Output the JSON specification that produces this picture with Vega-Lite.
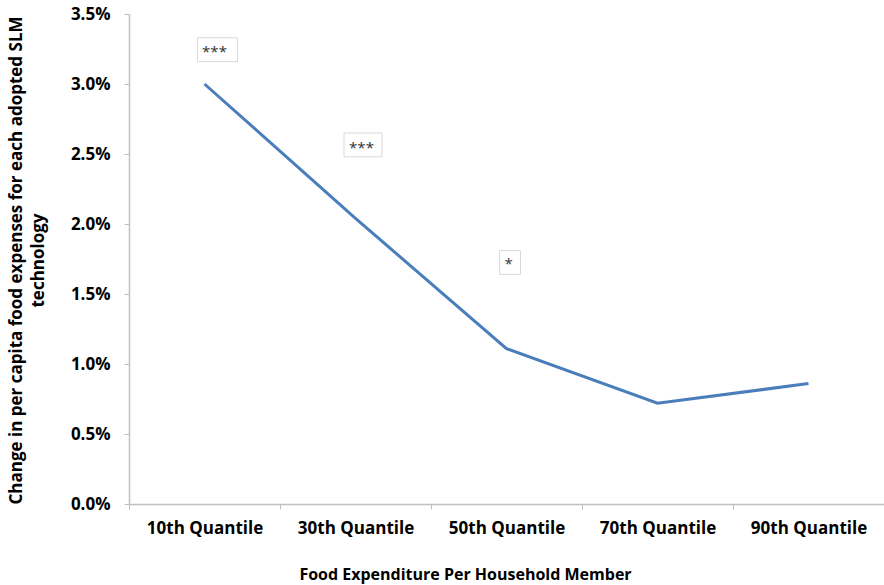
{
  "$schema": "https://vega.github.io/schema/vega-lite/v6.json",
  "width": 755,
  "height": 490,
  "autosize": "none",
  "padding": {"left": 129, "top": 14, "right": 0, "bottom": 81},
  "background": "white",
  "config": {
    "view": {"stroke": null},
    "font": "Open Sans",
    "axis": {"labelFont": "Open Sans", "titleFont": "Open Sans"}
  },
  "datasets": {
    "main": [
      {"quantile": "10th Quantile", "change": 0.0300},
      {"quantile": "30th Quantile", "change": 0.0204},
      {"quantile": "50th Quantile", "change": 0.0111},
      {"quantile": "70th Quantile", "change": 0.0072},
      {"quantile": "90th Quantile", "change": 0.0086}
    ],
    "notes": [
      {"id": 1, "quantile": "10th Quantile", "label": "***", "pos": 0.0324, "top": 0.0333, "bottom": 0.0316},
      {"id": 2, "quantile": "30th Quantile", "label": "***", "pos": 0.0256, "top": 0.0265, "bottom": 0.0248},
      {"id": 3, "quantile": "50th Quantile", "label": "*", "pos": 0.0173, "top": 0.0181, "bottom": 0.0164}
    ]
  },
  "encoding": {
    "x": {
      "field": "quantile",
      "type": "nominal",
      "sort": null,
      "scale": {"domain": ["10th Quantile", "30th Quantile", "50th Quantile", "70th Quantile", "90th Quantile"], "paddingInner": 0, "paddingOuter": 0},
      "axis": {
        "title": "Food Expenditure Per Household Member",
        "titleFontSize": 16,
        "titleFontWeight": "bold",
        "titleColor": "#000000",
        "titleX": 336,
        "titleY": 70,
        "titleAlign": "center",
        "titleBaseline": "middle",
        "labelAngle": 0,
        "labelFontSize": 17,
        "labelFontWeight": "bold",
        "labelColor": "#000000",
        "labelPadding": 11,
        "labelBaseline": "top",
        "tickBand": "extent",
        "tickSize": 5,
        "tickColor": "#bfbfbf",
        "domainColor": "#bfbfbf",
        "domainWidth": 1.5,
        "grid": false
      }
    }
  },
  "layer": [
    {
      "data": {"name": "main"},
      "mark": {"type": "line", "color": "#4a7ebb", "strokeWidth": 3},
      "encoding": {
        "y": {
          "field": "change",
          "type": "quantitative",
          "scale": {"domain": [0, 0.035], "nice": false},
          "axis": {
            "values": [0, 0.005, 0.01, 0.015, 0.02, 0.025, 0.03, 0.035],
            "format": ".1%",
            "grid": false,
            "title": ["Change in per capita food expenses for each adopted SLM", "technology"],
            "titleFontSize": 17,
            "titleFontWeight": "bold",
            "titleColor": "#000000",
            "titleAngle": -90,
            "titleX": -121,
            "titleY": 246,
            "titleAlign": "center",
            "titleBaseline": "top",
            "titleLineHeight": 22,
            "labelFontSize": 17,
            "labelFontWeight": "bold",
            "labelColor": "#000000",
            "labelPadding": 14,
            "tickSize": 5,
            "tickColor": "#bfbfbf",
            "domainColor": "#bfbfbf",
            "domainWidth": 1.5
          }
        }
      }
    },
    {
      "data": {"name": "notes"},
      "transform": [{"filter": "datum.id == 1"}],
      "layer": [
        {"mark": {"type": "rect", "width": 40, "xOffset": 13, "fill": null, "stroke": "#d9d9d9", "strokeWidth": 1},
         "encoding": {"y": {"field": "top", "type": "quantitative"}, "y2": {"field": "bottom"}}},
        {"mark": {"type": "text", "fontSize": 15, "color": "#333333", "xOffset": 10, "dy": 2, "baseline": "middle", "font": "Open Sans"},
         "encoding": {"y": {"field": "pos", "type": "quantitative"}, "text": {"field": "label"}}}
      ]
    },
    {
      "data": {"name": "notes"},
      "transform": [{"filter": "datum.id == 2"}],
      "layer": [
        {"mark": {"type": "rect", "width": 38, "xOffset": 7.5, "fill": null, "stroke": "#d9d9d9", "strokeWidth": 1},
         "encoding": {"y": {"field": "top", "type": "quantitative"}, "y2": {"field": "bottom"}}},
        {"mark": {"type": "text", "fontSize": 15, "color": "#333333", "xOffset": 6, "dy": 2, "baseline": "middle", "font": "Open Sans"},
         "encoding": {"y": {"field": "pos", "type": "quantitative"}, "text": {"field": "label"}}}
      ]
    },
    {
      "data": {"name": "notes"},
      "transform": [{"filter": "datum.id == 3"}],
      "layer": [
        {"mark": {"type": "rect", "width": 21, "xOffset": 3.5, "fill": null, "stroke": "#d9d9d9", "strokeWidth": 1},
         "encoding": {"y": {"field": "top", "type": "quantitative"}, "y2": {"field": "bottom"}}},
        {"mark": {"type": "text", "fontSize": 15, "color": "#333333", "xOffset": 2, "dy": 2, "baseline": "middle", "font": "Open Sans"},
         "encoding": {"y": {"field": "pos", "type": "quantitative"}, "text": {"field": "label"}}}
      ]
    }
  ]
}
